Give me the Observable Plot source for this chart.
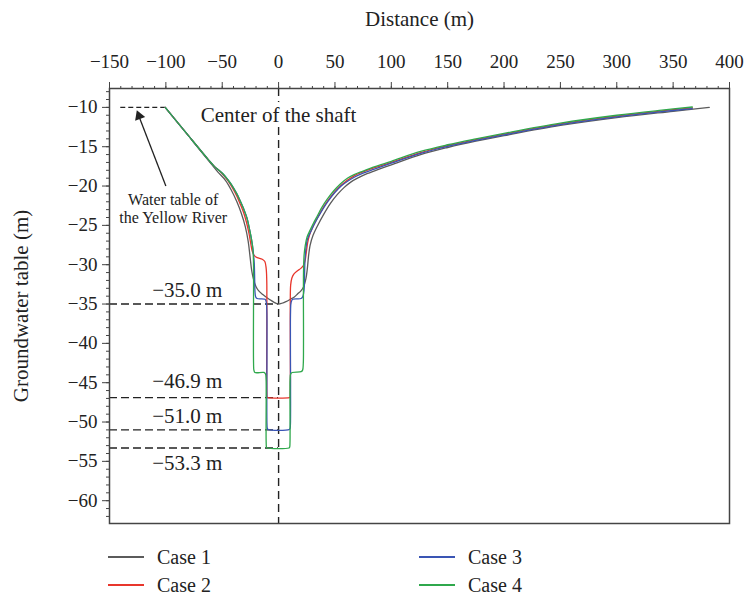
<!DOCTYPE html>
<html>
<head>
<meta charset="utf-8">
<script src="https://cdn.jsdelivr.net/npm/d3@7"></script>
<script src="https://cdn.jsdelivr.net/npm/@observablehq/plot@0.6"></script>
<style>
  body { margin: 0; background: #fff; }
  #wrap { position: relative; width: 745px; height: 599px; font-family: "Liberation Serif", serif; color: #222; }
  .leg { position: absolute; display: flex; align-items: center; font-size: 20px; height: 24px; }
  .sw { width: 36px; height: 1.5px; margin-right: 13px; }
</style>
</head>
<body>
<div id="wrap"></div>
<script>
// ---- data ----
const seriesNames = ["Case 1", "Case 2", "Case 3", "Case 4"];
const seriesColors = ["#5b5b5b", "#e8362c", "#3a55b4", "#2fa84c"];

const case1 = [[-100.6,-10],[-80,-13.6],[-62,-16.8],[-58,-17.5],[-54,-18.2],[-47,-19.3],[-42,-20.5],[-37,-22.0],[-33,-23.5],[-29.5,-25.2],[-27,-27],[-25.3,-29],[-23.8,-30.8],[-22,-32],[-20,-32.8],[-17.8,-33.3],[-14,-33.8],[-10.3,-34.2],[-6,-34.6],[-3,-34.85],[0,-35],[3,-34.9],[6.5,-34.7],[10.4,-34.4],[14,-34.1],[17,-33.7],[20,-33.3],[22.2,-32.8],[24.2,-31.8],[25.5,-30.5],[26.5,-29],[28,-27.5],[30.5,-26.3],[34,-25.2],[40,-23.6],[46,-22.2],[52,-21.1],[58,-20.2],[64,-19.5],[70,-19.0],[79,-18.4],[88,-17.9],[100,-17.3],[126,-16.0],[150,-15.1],[175,-14.3],[200,-13.6],[250,-12.3],[300,-11.3],[350,-10.5],[382,-10]];

const case2 = [[-100.6,-10],[-80,-13.6],[-62,-16.7],[-57,-17.5],[-53,-18.0],[-49,-18.6],[-45,-19.3],[-41,-20.2],[-37,-21.3],[-34,-22.3],[-31,-23.4],[-28.5,-24.6],[-26.3,-26],[-24.6,-27.4],[-23.3,-28.3],[-21.5,-28.85],[-19,-29.1],[-14.5,-29.3],[-12.2,-29.6],[-11,-30.5],[-10.5,-32],[-10.4,-35],[-10.4,-46.4],[-10.1,-46.85],[-9.5,-46.9],[9.6,-46.9],[10.2,-46.85],[10.4,-46.4],[10.4,-34],[10.7,-32.6],[11.8,-31.7],[13.5,-31.2],[16.5,-30.8],[19.5,-30.5],[22,-30.1],[23.6,-29.4],[24.6,-28.4],[25.8,-27.2],[27.5,-26.2],[30,-25.3],[35,-23.9],[43.5,-21.9],[55.5,-19.9],[67,-18.7],[75,-18.2],[84.5,-17.7],[100,-17.0],[126,-15.75],[150,-14.85],[175,-14.1],[200,-13.4],[250,-12.1],[300,-11.1],[340,-10.45],[367,-10.05]];

const case3 = [[-100.6,-10],[-80,-13.6],[-62,-16.7],[-57,-17.5],[-53,-18.0],[-49,-18.5],[-45,-19.2],[-41,-20.0],[-37,-21.0],[-34,-21.9],[-31,-22.9],[-28,-24.1],[-25.8,-25.5],[-24,-26.8],[-22.6,-28.2],[-21.6,-29.8],[-21.2,-32],[-21,-33.3],[-20.3,-34.1],[-19,-34.3],[-12,-34.4],[-10.9,-34.8],[-10.4,-36],[-10.3,-40],[-10.3,-50.3],[-10,-50.8],[-9.3,-50.95],[9.5,-50.95],[10.2,-50.8],[10.5,-50.3],[10.5,-40],[10.6,-36],[11.1,-34.8],[12.5,-34.4],[20,-34.3],[21.6,-34.0],[22.6,-33.2],[23,-31.5],[23.4,-29.5],[24.2,-28],[25.5,-26.8],[28.5,-25.8],[34.5,-24.1],[43.5,-22],[55.5,-20],[67.5,-18.85],[75,-18.35],[85,-17.85],[100,-17.1],[126,-15.85],[150,-14.95],[175,-14.2],[200,-13.5],[250,-12.2],[300,-11.2],[340,-10.55],[367,-10.15]];

const case4 = [[-100.6,-10],[-80,-13.6],[-62,-16.7],[-57,-17.5],[-53,-18.0],[-49,-18.5],[-45,-19.2],[-41,-20.0],[-37,-21.0],[-34,-21.9],[-31,-22.9],[-28,-24.1],[-25.8,-25.5],[-24,-26.8],[-22.8,-28],[-22.3,-29.5],[-22.2,-32],[-22.2,-42.6],[-21.9,-43.4],[-21,-43.7],[-13,-43.7],[-11.6,-43.9],[-11.1,-44.6],[-11,-46],[-11,-52.7],[-10.7,-53.2],[-10,-53.3],[9.2,-53.3],[9.8,-53.2],[10.1,-52.7],[10.1,-46],[10.2,-44.6],[10.7,-43.9],[12,-43.7],[20,-43.6],[21.3,-43.4],[21.9,-42.6],[22.1,-40],[22.1,-31],[22.6,-28.8],[23.6,-27.6],[25.2,-26.5],[28,-25.6],[31,-24.7],[34,-23.9],[38,-22.8],[43,-21.7],[49,-20.6],[55,-19.7],[61,-19.0],[67,-18.55],[75,-18.1],[84,-17.6],[100,-16.85],[126,-15.6],[150,-14.75],[175,-14.0],[200,-13.3],[250,-12.0],[300,-11.0],[340,-10.35],[367,-9.95]];

const xMajorTicks = d3.range(-150, 401, 50);
const xMinorTicks = d3.range(-150, 401, 10);
const yMajorTicks = d3.range(-60, -9, 5);
const yMinorTicks = d3.range(-62, -7, 1);

const levelValues = [-35.0, -46.9, -51.0, -53.3];
const levelLabels = ["−35.0 m", "−46.9 m", "−51.0 m", "−53.3 m"];
const levelLabelY = [-33.25, -44.8, -49.3, -55.2];
const levelLabelX = -81;

const waterTable = {x1: -140, x2: -100, y: -10};
const arrowLine = {x1: -100, y1: -20.0, x2: -124.5, y2: -10.9};
const arrowHead = {x: -123.8, y: -11.1};
const riverLabel = ["Water table of", "the Yellow River"];
const riverLabelY = [-21.7, -24.1];
const riverLabelX = -93.5;
const centerLabel = {text: "Center of the shaft", x: 0, y: -11.0};

// ---- chart ----
const ink = "#222";
const cases = [case1, case2, case3, case4];
const lineMarks = cases.map((c, i) =>
  Plot.line(c, {x: d => d[0], y: d => d[1], stroke: seriesColors[i], strokeWidth: 1.3, curve: "catmull-rom"}));

const chart = Plot.plot({
  width: 745,
  height: 533,
  marginTop: 88,
  marginLeft: 109,
  marginRight: 16,
  marginBottom: 10,
  style: {fontFamily: "Liberation Serif, serif", fontSize: "19px", color: ink, background: "#fff"},
  x: {domain: [-150, 400]},
  y: {domain: [-62.9, -7.6]},
  marks: [
    Plot.axisX(xMinorTicks, {anchor: "top", tickSize: 3, tickFormat: () => "", label: null, stroke: "#444"}),
    Plot.axisX(xMajorTicks, {anchor: "top", tickSize: 7, tickPadding: 14, fontSize: 19, stroke: "#444",
      label: "Distance (m)", labelAnchor: "center", labelOffset: 77, labelArrow: "none"}),
    Plot.axisY(yMinorTicks, {anchor: "left", tickSize: 3, tickFormat: () => "", label: null, stroke: "#444"}),
    Plot.axisY(yMajorTicks, {anchor: "left", tickSize: 7, tickPadding: 5, fontSize: 19, stroke: "#444",
      label: "Groundwater table (m)", labelAnchor: "center", labelOffset: 96, labelArrow: "none"}),
    Plot.ruleX([0], {stroke: ink, strokeWidth: 1.4, strokeDasharray: "8,5"}),
    Plot.ruleY(levelValues, {x1: -150, x2: 0, stroke: ink, strokeWidth: 1.4, strokeDasharray: "8,4"}),
    Plot.ruleY([waterTable], {x1: "x1", x2: "x2", y: "y", stroke: ink, strokeWidth: 1.2, strokeDasharray: "5,3"}),
    ...lineMarks,
    Plot.link([arrowLine], {x1: "x1", y1: "y1", x2: "x2", y2: "y2", stroke: ink, strokeWidth: 1.3}),
    Plot.dot([arrowHead], {x: "x", y: "y", symbol: "triangle", r: 4, fill: ink, stroke: null, rotate: -21}),
    Plot.text(levelLabels, {x: () => levelLabelX, y: (d, i) => levelLabelY[i], text: d => d, fontSize: 21, fill: ink}),
    Plot.text(riverLabel, {x: () => riverLabelX, y: (d, i) => riverLabelY[i], text: d => d, fontSize: 16, fill: ink}),
    Plot.text([centerLabel], {x: "x", y: "y", text: "text", fontSize: 21, fill: ink, stroke: "white", strokeWidth: 10}),
    Plot.frame({stroke: "#444", strokeWidth: 1.5})
  ]
});

const wrap = document.getElementById("wrap");
wrap.appendChild(chart);
// slightly larger axis titles
chart.querySelectorAll("g[aria-label='x-axis label'] text, g[aria-label='y-axis label'] text")
  .forEach(t => t.setAttribute("font-size", "21"));

const legendPos = [[108, 545], [108, 573], [419, 545], [419, 573]];
seriesNames.forEach((name, i) => {
  const item = document.createElement("div");
  item.className = "leg";
  item.style.left = legendPos[i][0] + "px";
  item.style.top = legendPos[i][1] + "px";
  const sw = document.createElement("div");
  sw.className = "sw";
  sw.style.background = seriesColors[i];
  const t = document.createElement("span");
  t.textContent = name;
  item.appendChild(sw);
  item.appendChild(t);
  wrap.appendChild(item);
});
</script>
</body>
</html>
